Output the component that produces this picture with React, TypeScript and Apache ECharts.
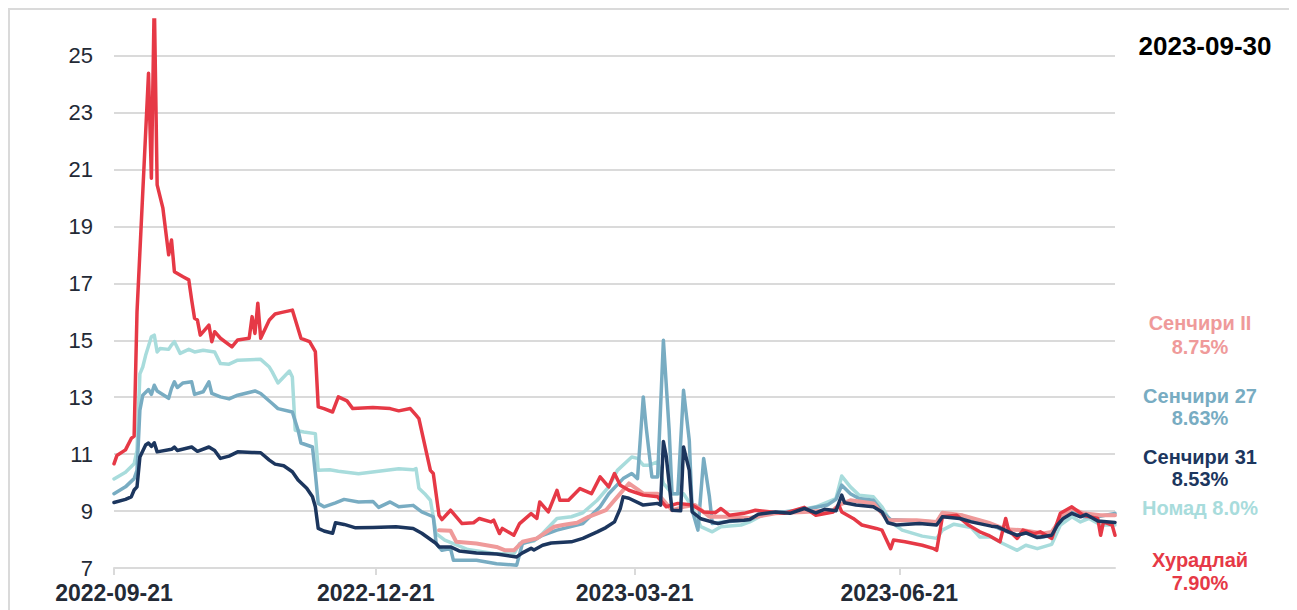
import React, { useEffect, useRef } from 'react';
import * as echarts from 'echarts';

// x values are day offsets from START_DATE; y values are yields in %
const START_DATE = '2022-09-21';
const END_DAY = 348;
const TICK_DATES = ['2022-09-21', '2022-12-21', '2023-03-21', '2023-06-21'];
const Y_TICKS = [7, 9, 11, 13, 15, 17, 19, 21, 23, 25];
const Y_MIN = 7;
const Y_MAX = 26.25;
const REPORT_DATE = '2023-09-30';

const KHURADLAI: [number, number][] = [
  [0, 10.66], [1, 10.95], [4, 11.15], [6, 11.55], [7, 11.63], [8, 16.0], [12, 24.38], [13, 20.69], [14, 27.0], [15, 20.46],
  [17, 19.64], [19, 18.0], [20, 18.52], [21, 17.41], [24, 17.23], [26, 17.12], [27, 16.41], [28, 15.77], [29, 15.71], [30, 15.18],
  [33, 15.53], [34, 14.95], [35, 15.3], [37, 15.07], [41, 14.77], [43, 15.01], [47, 15.07], [48, 15.83], [49, 15.24], [50, 16.3],
  [51, 15.07], [54, 15.71], [56, 15.92], [58, 15.97], [62, 16.06], [65, 15.07], [68, 14.95], [70, 14.6], [71, 12.66], [73, 12.6],
  [76, 12.48], [78, 13.01], [81, 12.87], [83, 12.6], [90, 12.64], [96, 12.6], [99, 12.52], [103, 12.6], [105, 12.37], [106, 12.25],
  [110, 10.43], [111, 10.32], [113, 8.85], [114, 8.7], [117, 9.03], [121, 8.56], [125, 8.59], [127, 8.74], [131, 8.62], [132, 8.68],
  [134, 8.21], [135, 8.39], [139, 8.15], [141, 8.56], [145, 8.91], [147, 8.74], [148, 9.32], [151, 8.97], [154, 9.73], [155, 9.38],
  [158, 9.38], [162, 9.79], [166, 9.61], [169, 10.2], [172, 9.85], [174, 10.32], [176, 9.91], [179, 9.73], [184, 9.56], [189, 9.5],
  [192, 9.15], [196, 9.27], [201, 9.21], [205, 8.97], [209, 8.94], [211, 9.09], [214, 8.85], [219, 8.92], [223, 9.03], [233, 8.92],
  [240, 9.13], [244, 8.85], [250, 8.97], [252, 9.21], [253, 8.97], [257, 8.74], [260, 8.51], [265, 8.39], [267, 8.33], [270, 7.68],
  [271, 7.98], [275, 7.92], [281, 7.8], [285, 7.68], [286, 7.62], [288, 8.8], [293, 8.85], [297, 8.51], [301, 8.27], [304, 8.15],
  [308, 7.92], [310, 8.74], [311, 8.33], [314, 8.04], [316, 8.33], [320, 8.21], [322, 8.27], [326, 8.04], [329, 8.92], [333, 9.15],
  [337, 8.85], [342, 8.74], [343, 8.15], [344, 8.62], [347, 8.51], [348, 8.15],
];

const SENCHIRI_II: [number, number][] = [
  [113, 8.33], [117, 8.31], [119, 7.92], [126, 7.86], [133, 7.74], [136, 7.62], [139, 7.62], [142, 7.92], [147, 8.04], [153, 8.45],
  [156, 8.51], [161, 8.59], [165, 8.8], [171, 9.03], [175, 9.5], [179, 9.97], [182, 9.76], [184, 9.61], [189, 9.61], [191, 9.38],
  [194, 9.03], [198, 9.15], [202, 9.21], [207, 8.8], [214, 8.8], [221, 8.76], [230, 8.92], [240, 8.97], [250, 9.03], [252, 9.21],
  [256, 9.38], [264, 9.27], [269, 8.68], [279, 8.68], [286, 8.62], [288, 8.94], [295, 8.85], [304, 8.59], [310, 8.36], [316, 8.33],
  [323, 8.21], [326, 8.27], [330, 8.85], [333, 9.09], [337, 8.92], [343, 8.85], [348, 8.85],
];

const SENCHIRI_27: [number, number][] = [
  [0, 9.61], [4, 9.85], [7, 10.14], [8, 10.43], [9, 12.54], [10, 13.07], [12, 13.27], [13, 13.1], [14, 13.42], [15, 13.22],
  [19, 12.96], [20, 13.31], [21, 13.54], [22, 13.34], [24, 13.5], [27, 13.54], [28, 13.1], [31, 13.19], [33, 13.54], [34, 13.13],
  [37, 13.01], [40, 12.94], [43, 13.07], [49, 13.22], [51, 13.13], [55, 12.78], [57, 12.6], [62, 12.48], [64, 11.84], [65, 11.39],
  [69, 11.25], [70, 10.32], [71, 9.27], [73, 9.15], [77, 9.29], [80, 9.41], [85, 9.32], [90, 9.34], [92, 9.13], [96, 9.32],
  [99, 9.15], [104, 9.2], [107, 8.97], [111, 8.8], [112, 7.86], [114, 7.62], [117, 7.68], [118, 7.27], [126, 7.27], [133, 7.15],
  [140, 7.1], [142, 7.86], [146, 7.98], [149, 8.15], [154, 8.33], [163, 8.56], [169, 9.15], [172, 9.61], [177, 10.14], [180, 10.32],
  [182, 10.14], [184, 13.01], [185, 11.96], [187, 10.2], [189, 10.2], [191, 15.0], [193, 11.84], [194, 9.61], [196, 9.61], [198, 13.24],
  [200, 11.48], [201, 9.03], [203, 8.33], [205, 10.85], [207, 9.5], [208, 8.56], [212, 8.62], [219, 8.68], [221, 8.7], [226, 8.92],
  [238, 9.01], [248, 9.21], [251, 9.41], [253, 9.91], [256, 9.61], [259, 9.44], [264, 9.38], [267, 8.97], [270, 8.7], [279, 8.65],
  [286, 8.62], [288, 8.92], [293, 8.85], [298, 8.65], [305, 8.51], [309, 8.33], [314, 8.15], [317, 8.27], [322, 8.07], [326, 8.15],
  [329, 8.68], [333, 8.97], [337, 8.8], [342, 8.8], [348, 8.92],
];

const SENCHIRI_31: [number, number][] = [
  [0, 9.3], [4, 9.41], [6, 9.5], [7, 9.74], [8, 9.85], [9, 10.9], [11, 11.32], [12, 11.39], [13, 11.27], [14, 11.4],
  [15, 11.08], [20, 11.17], [21, 11.25], [22, 11.13], [27, 11.25], [29, 11.1], [33, 11.25], [35, 11.13], [37, 10.85], [40, 10.93],
  [43, 11.08], [48, 11.06], [51, 11.05], [54, 10.79], [56, 10.65], [59, 10.59], [62, 10.38], [64, 10.09], [67, 9.8], [69, 9.5],
  [70, 9.15], [71, 8.39], [73, 8.3], [76, 8.22], [77, 8.59], [80, 8.53], [84, 8.41], [90, 8.42], [98, 8.45], [104, 8.39],
  [107, 8.22], [112, 7.86], [113, 7.74], [117, 7.74], [120, 7.6], [126, 7.53], [133, 7.49], [140, 7.39], [142, 7.53], [145, 7.69],
  [146, 7.63], [149, 7.8], [152, 7.88], [159, 7.92], [163, 8.04], [168, 8.27], [171, 8.42], [174, 8.62], [176, 9.09], [177, 9.5],
  [179, 9.45], [184, 9.21], [189, 9.27], [190, 9.21], [191, 11.44], [192, 10.91], [194, 9.03], [197, 9.01], [198, 11.25], [200, 10.43],
  [201, 8.97], [204, 8.73], [210, 8.56], [214, 8.65], [219, 8.68], [221, 8.7], [224, 8.89], [230, 8.97], [235, 8.92], [240, 9.09],
  [244, 8.94], [247, 9.06], [251, 9.01], [253, 9.56], [254, 9.29], [258, 9.21], [264, 9.15], [267, 8.97], [269, 8.59], [272, 8.51],
  [280, 8.56], [286, 8.51], [288, 8.8], [294, 8.74], [298, 8.62], [305, 8.47], [307, 8.45], [311, 8.27], [314, 8.15], [317, 8.23],
  [321, 8.07], [326, 8.15], [328, 8.51], [330, 8.74], [333, 8.92], [336, 8.8], [338, 8.88], [342, 8.65], [348, 8.6],
];

const NOMAD: [number, number][] = [
  [0, 10.13], [4, 10.36], [7, 10.66], [8, 11.13], [9, 13.82], [10, 14.06], [11, 14.47], [13, 15.12], [14, 15.18], [15, 14.59],
  [16, 14.71], [19, 14.68], [20, 14.83], [21, 14.95], [23, 14.54], [26, 14.68], [28, 14.59], [31, 14.65], [35, 14.59], [37, 14.18],
  [40, 14.16], [43, 14.3], [51, 14.33], [54, 14.06], [55, 13.89], [57, 13.5], [61, 13.92], [62, 13.71], [63, 11.84], [66, 11.78],
  [70, 11.72], [71, 10.43], [75, 10.45], [78, 10.4], [85, 10.31], [92, 10.4], [99, 10.49], [104, 10.45], [105, 10.49], [106, 9.8],
  [108, 9.61], [110, 9.38], [112, 8.21], [115, 7.98], [118, 7.86], [123, 7.65], [132, 7.51], [139, 7.49], [141, 7.86], [146, 7.95],
  [149, 8.21], [154, 8.74], [159, 8.8], [163, 8.94], [168, 9.38], [172, 9.85], [175, 10.43], [180, 10.9], [182, 10.85], [184, 10.61],
  [186, 10.61], [189, 10.73], [191, 9.97], [194, 9.61], [198, 9.61], [201, 9.15], [204, 8.45], [208, 8.27], [211, 8.45], [218, 8.51],
  [221, 8.62], [226, 8.89], [238, 9.03], [244, 9.15], [251, 9.44], [253, 10.23], [256, 9.85], [259, 9.56], [264, 9.5], [267, 9.15],
  [270, 8.62], [274, 8.33], [281, 8.12], [286, 8.04], [288, 8.33], [292, 8.54], [298, 8.42], [301, 8.09], [305, 8.09], [309, 7.86],
  [314, 7.62], [317, 7.8], [321, 7.68], [326, 7.83], [329, 8.51], [333, 8.8], [336, 8.62], [339, 8.74], [343, 8.51], [348, 8.51],
];

const SERIES_NAMES = ['Номад', 'Сенчири 27', 'Сенчири II', 'Хурадлай', 'Сенчири 31'];
const SERIES_COLORS = ['#a8dcdc', '#78acc2', '#ef9a9a', '#e63946', '#1c365e'];
const SERIES_WIDTHS = [3.5, 3.5, 4, 3.5, 3.5];
const SERIES_DATA = [NOMAD, SENCHIRI_27, SENCHIRI_II, KHURADLAI, SENCHIRI_31];

const END_LABELS: { lines: string[]; color: string; ys: number[] }[] = [
  { lines: ['Сенчири II', '8.75%'], color: '#ef9a9a', ys: [313, 337] },
  { lines: ['Сенчири 27', '8.63%'], color: '#78acc2', ys: [386, 408] },
  { lines: ['Сенчири 31', '8.53%'], color: '#1c365e', ys: [447, 469] },
  { lines: ['Номад 8.0%'], color: '#a8dcdc', ys: [498] },
  { lines: ['Хурадлай', '7.90%'], color: '#e63946', ys: [550, 573] },
];

const DAY_MS = 86400000;
const toTs = (d: string) => Date.parse(d + 'T00:00:00Z');
const T0 = toTs(START_DATE);
const toDay = (d: string) => Math.round((toTs(d) - T0) / DAY_MS);

const FONT = 'Arial, "Liberation Sans", sans-serif';
const TEXT_COLOR = '#232a36';
const GRID_COLOR = '#dadada';

export default function App() {
  const ref = useRef<HTMLDivElement>(null);
  useEffect(() => {
    document.documentElement.style.overflow = 'hidden';
    document.body.style.overflow = 'hidden';
    const chart = echarts.init(ref.current!, undefined, { renderer: 'svg' });
    const splitColors = Y_TICKS.map(() => GRID_COLOR).concat(['rgba(0,0,0,0)']);
    const tickDays = TICK_DATES.map(toDay);
    const graphics: any[] = [
      {
        type: 'text',
        x: 1195,
        y: 36,
        style: {
          text: REPORT_DATE,
          fill: '#000',
          font: `bold 26px ${FONT}`,
          textAlign: 'center',
          textVerticalAlign: 'middle',
        },
      },
    ];
    END_LABELS.forEach((l) => {
      l.lines.forEach((t, i) => {
        graphics.push({
          type: 'text',
          x: 1190,
          y: l.ys[i],
          style: {
            text: t,
            fill: l.color,
            font: `bold 20px ${FONT}`,
            textAlign: 'center',
            textVerticalAlign: 'middle',
          },
        });
      });
    });
    chart.setOption({
      animation: false,
      backgroundColor: '#fff',
      textStyle: { fontFamily: FONT },
      grid: { left: 104, right: 178, top: 10, bottom: 48, containLabel: false, outerBoundsMode: 'none' },
      xAxis: {
        type: 'value',
        min: 0,
        max: END_DAY,
        splitLine: { show: false },
        axisLine: { show: true, lineStyle: { color: GRID_COLOR, width: 2 } },
        axisTick: {
          show: true,
          length: 7,
          lineStyle: { color: GRID_COLOR, width: 2 },
          customValues: tickDays,
        },
        axisLabel: {
          customValues: tickDays,
          formatter: (v: number) => echarts.time.format(T0 + v * DAY_MS, '{yyyy}-{MM}-{dd}', true),
          fontSize: 23,
          fontWeight: 'bold',
          color: TEXT_COLOR,
          fontFamily: FONT,
          margin: 13,
          hideOverlap: false,
        },
      },
      yAxis: {
        type: 'value',
        min: Y_MIN,
        max: Y_MAX,
        interval: 2,
        axisLine: { show: false },
        axisTick: { show: false },
        splitLine: { show: true, lineStyle: { color: splitColors, width: 2 } },
        axisLabel: {
          fontSize: 22,
          color: TEXT_COLOR,
          fontFamily: FONT,
          margin: 21,
          showMaxLabel: false,
          formatter: (v: number) => (Y_TICKS.indexOf(v) >= 0 ? String(v) : ''),
        },
      },
      series: SERIES_DATA.map((d, i) => ({
        type: 'line',
        name: SERIES_NAMES[i],
        data: d,
        showSymbol: false,
        symbol: 'none',
        clip: true,
        z: 2 + i,
        lineStyle: { color: SERIES_COLORS[i], width: SERIES_WIDTHS[i], join: 'round', cap: 'round' },
        itemStyle: { color: SERIES_COLORS[i] },
      })),
      graphic: graphics,
    });
    return () => chart.dispose();
  }, []);
  return (
    <div
      style={{
        width: 1287,
        height: 612,
        border: `2px solid ${GRID_COLOR}`,
        boxSizing: 'border-box',
        background: '#fff',
      }}
    >
      <div ref={ref} style={{ width: 1283, height: 606 }} />
    </div>
  );
}
